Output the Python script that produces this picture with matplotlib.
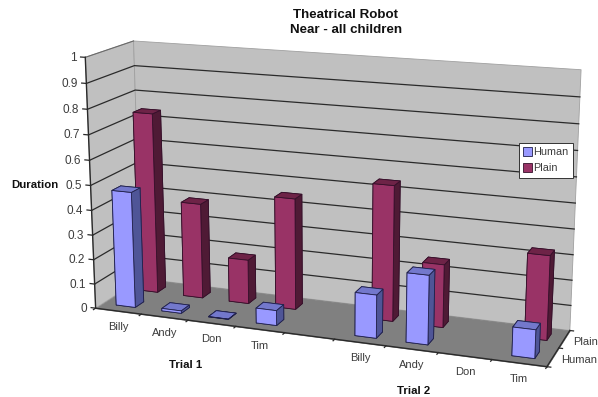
import numpy as np
import matplotlib
matplotlib.use('Agg')
import matplotlib.pyplot as plt
import matplotlib.patches as mpatches
from mpl_toolkits.mplot3d import Axes3D, proj3d
from mpl_toolkits.mplot3d.art3d import Poly3DCollection

plt.rcParams['font.family'] = ['Liberation Sans', 'DejaVu Sans']

# one slot per child, the empty slot separates the two trials
categories = ['Billy', 'Andy', 'Don', 'Tim', '', 'Billy', 'Andy', 'Don', 'Tim']
series_names = ['Human', 'Plain']
human = [0.47, 0.01, 0.0, 0.06, np.nan, 0.17, 0.27, np.nan, 0.11]
plain = [0.74, 0.39, 0.18, 0.45, np.nan, 0.54, 0.25, np.nan, 0.33]
z_ticks = [0, 0.1, 0.2, 0.3, 0.4, 0.5, 0.6, 0.7, 0.8, 0.9, 1]

WALL = '#c0c0c0'
FLOOR = '#808080'
LINE = '#2a2a2a'
TEXT = '#3c3c3c'
# bottom, top, front, back, left, right
HUMAN_FACES = ['#9999ff', '#7378cc', '#9999ff', '#9999ff', '#4f5597', '#4f5597']
PLAIN_FACES = ['#993366', '#6e2347', '#993366', '#993366', '#4f1a35', '#4f1a35']

W, H = 598, 397
fig = plt.figure(figsize=(W / 100, H / 100), dpi=100)

size = 540.0
ax = fig.add_axes([50.6 / W, -74.4 / H, size / W, size / H], projection='3d')
ax.set_xlim(0, 9, view_margin=0)
ax.set_ylim(0, 2, view_margin=0)
ax.set_zlim(0, 1, view_margin=0)
ax.set_xticks([])
ax.set_yticks([])
ax.set_zticks([])
ax.view_init(15.1453, -69.7246)
ax.set_proj_type('persp', focal_length=0.5332)
ax.set_box_aspect((1.8046, 0.3960, 1))
ax.set_axis_off()
ax.computed_zorder = False


def label_at(x, y, z, text, dx, dy, **kwargs):
    # flat label placed a few pixels away from a projected 3d point
    x2, y2, _ = proj3d.proj_transform(x, y, z, ax.get_proj())
    ax.annotate(text, xy=(x2, y2), xytext=(dx * 0.72, dy * 0.72), textcoords='offset points',
                color=TEXT, zorder=6, annotation_clip=False, **kwargs)


# walls and floor
left_wall = [(0, 0, 0), (0, 2, 0), (0, 2, 1), (0, 0, 1)]
back_wall = [(0, 2, 0), (9, 2, 0), (9, 2, 1), (0, 2, 1)]
floor = [(0, 0, 0), (9, 0, 0), (9, 2, 0), (0, 2, 0)]
ax.add_collection3d(Poly3DCollection([left_wall, back_wall], facecolors=WALL,
                                     edgecolors='#a0a0a0', linewidths=0.6, zorder=1))
ax.add_collection3d(Poly3DCollection([floor], facecolors=FLOOR,
                                     edgecolors=FLOOR, linewidths=0.6, zorder=1))

# gridlines and the value axis
for z in z_ticks:
    if 0 < z < 1:
        ax.plot([0, 0, 9], [0, 2, 2], [z, z, z], color=LINE, lw=0.9, zorder=2)
    ax.plot([-0.1, 0], [0, 0], [z, z], color=LINE, lw=0.9, zorder=2)
    label_at(0, 0, z, '%g' % z, -8.5, -0.5, ha='right', va='center', fontsize=8.5)
ax.plot([0, 0], [0, 2], [1, 1], color='#6a6a6a', lw=0.8, zorder=2)
ax.plot([0, 0], [0, 0], [0, 1], color=LINE, lw=1.0, zorder=2)

# bars, back row first so the front row overlaps it
bar_w = 0.42
bar_d = 0.37
for row, (values, faces) in enumerate([(plain, PLAIN_FACES), (human, HUMAN_FACES)]):
    y_pos = 1 if row == 0 else 0
    for i, val in enumerate(values):
        if np.isnan(val):
            continue
        ax.bar3d(i + 0.5 - bar_w / 2, y_pos + 0.5 - bar_d / 2, 0, bar_w, bar_d, max(val, 0.001),
                 color=faces, shade=False, edgecolor='#20204a' if row else '#35102a',
                 linewidth=0.6, zorder=3 + row)

# front and side axes with their ticks
ax.plot([0, 9], [0, 0], [0, 0], color=LINE, lw=1.0, zorder=5)
ax.plot([9, 9], [0, 2], [0, 0], color=LINE, lw=1.0, zorder=5)
for i in range(len(categories) + 1):
    ax.plot([i, i], [0, -0.09], [0, 0], color=LINE, lw=0.9, zorder=5)
for j in range(3):
    ax.plot([9, 9.07], [j, j], [0, 0], color=LINE, lw=0.9, zorder=5)

for i, name in enumerate(categories):
    if name:
        label_at(i + 0.5, 0, 0, name, 0, -16, ha='center', va='center', fontsize=8)
for j, name in enumerate(series_names):
    label_at(9, j + 0.5, 0, name, 8.5, -3, ha='left', va='center', fontsize=8)

fig.text(346 / W, 1 - 22.5 / H, 'Theatrical Robot\nNear - all children', ha='center', va='center',
         fontsize=9.6, fontweight='bold', color='#111111', linespacing=1.39)
fig.text(35 / W, 1 - 185 / H, 'Duration', ha='center', va='center', fontsize=8.2,
         fontweight='bold', color='#111111')
fig.text(186 / W, 1 - 365 / H, 'Trial 1', ha='center', va='center', fontsize=8.2,
         fontweight='bold', color='#111111')
fig.text(414 / W, 1 - 391 / H, 'Trial 2', ha='center', va='center', fontsize=8.2,
         fontweight='bold', color='#111111')

handles = [mpatches.Patch(facecolor='#9999ff', edgecolor='#20204a', linewidth=0.6),
           mpatches.Patch(facecolor='#993366', edgecolor='#35102a', linewidth=0.6)]
leg = fig.legend(handles, series_names, loc='upper left',
                 bbox_to_anchor=(519 / W, 1 - 143 / H), bbox_transform=fig.transFigure,
                 fontsize=7.8, frameon=True, fancybox=False, framealpha=1, edgecolor='#333333',
                 borderpad=0.4, labelspacing=0.55, handlelength=0.8, handleheight=0.8,
                 handletextpad=0.1, borderaxespad=0, labelcolor=TEXT)
leg.get_frame().set_linewidth(0.7)

fig.savefig('out.png', dpi=100)
